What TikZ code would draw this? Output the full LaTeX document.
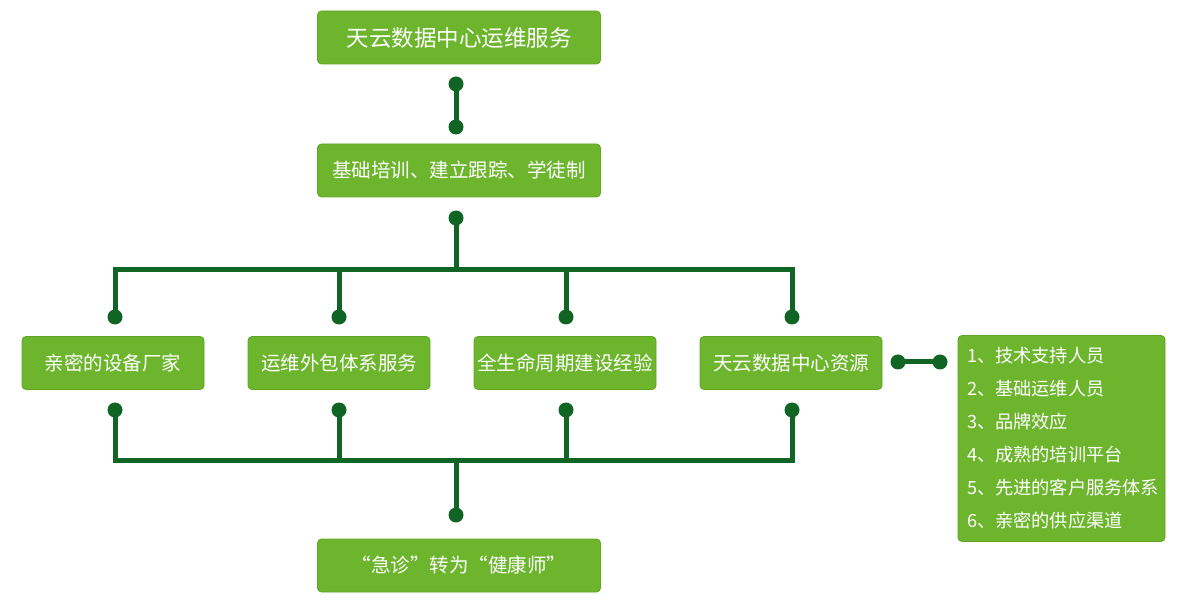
\documentclass[tikz,border=0pt]{standalone}
\usepackage{fontspec}
\newfontfamily\cjk{Noto Sans CJK SC}
\definecolor{boxgreen}{RGB}{108,181,45}
\definecolor{boxedge}{RGB}{94,166,36}
\definecolor{linegreen}{RGB}{16,100,36}
\begin{document}
\begin{tikzpicture}[x=1pt,y=-1pt,
  box/.style={draw=boxedge, fill=boxgreen, rounded corners=4pt, line width=0.8pt,
    text=white, inner sep=0pt, minimum height=53pt, font=\cjk\fontsize{19.5}{22}\selectfont},
  wbox/.style={box, minimum width=283pt},
  rbox/.style={box, minimum width=182pt},
  dotn/.style={circle, fill=linegreen, minimum size=15pt, inner sep=0pt},
  conn/.style={draw=linegreen, line width=5pt}]
\useasboundingbox (0,0) rectangle (1181,601);

% boxes
\node[wbox, font=\cjk\fontsize{22.5}{25}\selectfont] (top) at (459,37.5) {天云数据中心运维服务};
\node[wbox] (train) at (459,170.5) {基础培训、建立跟踪、学徒制};
\node[rbox] (r1) at (113,363) {亲密的设备厂家};
\node[rbox] (r2) at (339,363) {运维外包体系服务};
\node[rbox] (r3) at (565,363) {全生命周期建设经验};
\node[rbox] (r4) at (791,363) {天云数据中心资源};
\node[wbox] (bot) at (459,565.5) {“急诊”转为“健康师”};
\node[box, text width=189pt, minimum height=206pt, inner xsep=9pt, align=left,
  font=\cjk\fontsize{18.2}{33}\selectfont] (lst) at (1061.5,438.5)
  {1、技术支持人员\\2、基础运维人员\\3、品牌效应\\4、成熟的培训平台\\5、先进的客户服务体系\\6、亲密的供应渠道};

% dots
\node[dotn] (d1) at (456,84) {};
\node[dotn] (d2) at (456,127) {};
\node[dotn] (d3) at (456,218) {};
\node[dotn] (t1) at (115,317) {};
\node[dotn] (t2) at (339,317) {};
\node[dotn] (t3) at (566,317) {};
\node[dotn] (t4) at (792,317) {};
\node[dotn] (b1) at (115,410) {};
\node[dotn] (b2) at (339,410) {};
\node[dotn] (b3) at (566,410) {};
\node[dotn] (b4) at (792,410) {};
\node[dotn] (d4) at (456,515) {};
\node[dotn] (s1) at (898,362) {};
\node[dotn] (s2) at (940,362) {};

\coordinate (busT) at (456,270);
\coordinate (busB) at (456,460);

% connectors
\draw[conn] (d1.center) -- (d2.center);
\draw[conn] (d3.center) -- (busT);
\draw[conn] (t1.center) |- (busT) -| (t4.center);
\draw[conn] (t2.center) -- (t2.center |- busT);
\draw[conn] (t3.center) -- (t3.center |- busT);
\draw[conn] (b1.center) |- (busB) -| (b4.center);
\draw[conn] (b2.center) -- (b2.center |- busB);
\draw[conn] (b3.center) -- (b3.center |- busB);
\draw[conn] (busB) -- (d4.center);
\draw[conn] (s1.center) -- (s2.center);
\end{tikzpicture}
\end{document}
